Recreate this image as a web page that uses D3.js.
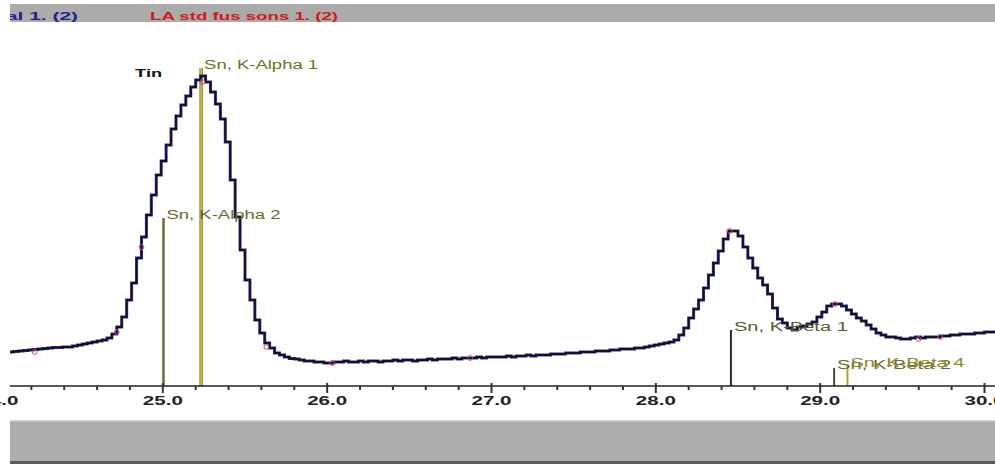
<!DOCTYPE html>
<html>
<head>
<meta charset="utf-8">
<script src="https://cdn.jsdelivr.net/npm/d3@7/dist/d3.min.js"></script>
<style>
  html, body { margin: 0; padding: 0; background: #fff; }
  svg { display: block; }
  text { font-family: "Liberation Sans", Arial, sans-serif; }
</style>
</head>
<body>
<svg id="chart" width="995" height="464"></svg>
<script>
// Spectrum channels (keV) : first channel edge and channel width
const channelStart = 24.06;
const channelWidth = 0.03;

// Counts per channel, spectrum "al 1. (2)"
const spectrumCounts = [
  330, 335, 340, 345, 350, 355, 360, 365, 370, 375,
  375, 380, 380, 390, 400, 410, 420, 430, 440, 450,
  470, 510, 580, 680, 850, 1020, 1270, 1480, 1700, 1900,
  2100, 2240, 2400, 2560, 2690, 2800, 2890, 2980, 3050, 3090,
  3030, 2930, 2810, 2660, 2430, 2050, 1680, 1350, 1050, 850,
  650, 520, 420, 370, 320, 300, 280, 265, 260, 250,
  240, 240, 230, 230, 220, 220, 230, 230, 240, 230,
  230, 240, 230, 240, 240, 230, 240, 240, 250, 240,
  250, 250, 240, 250, 250, 260, 250, 260, 260, 260,
  270, 260, 270, 270, 270, 280, 270, 280, 280, 280,
  280, 290, 280, 290, 290, 300, 290, 300, 300, 300,
  310, 310, 310, 320, 320, 320, 330, 330, 330, 340,
  340, 340, 350, 350, 360, 360, 360, 370, 370, 380,
  390, 400, 410, 420, 430, 450, 500, 570, 670, 760,
  850, 970, 1100, 1220, 1340, 1460, 1540, 1540, 1490, 1380,
  1270, 1170, 1070, 1000, 910, 770, 660, 620, 570, 550,
  580, 590, 610, 630, 680, 730, 790, 810, 810, 790,
  750, 710, 670, 640, 600, 560, 520, 500, 480, 480,
  470, 460, 460, 470, 480, 470, 480, 480, 480, 490,
  490, 500, 500, 510, 510, 510, 520, 520, 530, 530,
  530
];

// Second spectrum "LA std fus sons 1. (2)" : sampled points [keV, counts]
const refEnergies = [24.22, 24.72, 24.87, 25.24, 25.63, 26.03, 26.87, 28.45, 29.09, 29.60, 29.73];
const refCounts   = [330, 530, 1380, 3030, 380, 220, 270, 1540, 810, 460, 480];

// Line markers
const lineNames    = ["Sn, K-Alpha 1", "Sn, K-Alpha 2", "Sn, K-Beta 1", "Sn, K-Beta 2", "Sn, K-Beta 4"];
const lineEnergies = [25.233, 25.004, 28.457, 29.085, 29.166];
const lineHeights  = [3170, 1670, 550, 170, 190];
const lineColors   = ["#b7b126", "#6d6b30", "#2a2a2a", "#3a3a2a", "#aaa63a"];
const lineWidths   = [3, 2.5, 2, 1.8, 2];
const elementName  = "Tin";

// Axis ticks
const majorTicks = [24, 25, 26, 27, 28, 29, 30];
const tickLabels = ["24.0", "25.0", "26.0", "27.0", "28.0", "29.0", "30.0"];
const minorTicks = [24.2, 24.4, 24.6, 24.8, 25.2, 25.4, 25.6, 25.8, 26.2, 26.4, 26.6, 26.8,
                    27.2, 27.4, 27.6, 27.8, 28.2, 28.4, 28.6, 28.8, 29.2, 29.4, 29.6, 29.8];

// Header captions
const seriesTitles = ["al 1. (2)", "LA std fus sons 1. (2)"];
const seriesColors = ["#22238a", "#cf1b1b"];

const W = 995, H = 464;
const svg = d3.select("#chart");

const x = d3.scaleLinear().domain([24.07, 30.07]).range([10, 996]);
const y = d3.scaleLinear().domain([0, 3200]).range([385, 65]);
const axisY = 386;

// Header and footer panels
svg.append("rect").attr("x", 10).attr("y", 4).attr("width", W - 10).attr("height", 18).attr("fill", "#ababab");
svg.append("rect").attr("x", 10).attr("y", 421).attr("width", W - 10).attr("height", 40).attr("fill", "#adadad");
svg.append("rect").attr("x", 10).attr("y", 420).attr("width", W - 10).attr("height", 1.5).attr("fill", "#d4d4d4");
svg.append("rect").attr("x", 10).attr("y", 461).attr("width", W - 10).attr("height", 3).attr("fill", "#5a5a5a");

// Header captions
svg.append("clipPath").attr("id", "capclip")
  .append("rect").attr("x", 10).attr("y", 0).attr("width", W - 10).attr("height", 24);
const caps = svg.append("g").attr("clip-path", "url(#capclip)");
caps.append("text").attr("x", 6).attr("y", 20)
  .attr("font-size", 11).attr("font-weight", "bold").attr("fill", seriesColors[0])
  .attr("textLength", 72).attr("lengthAdjust", "spacingAndGlyphs").text(seriesTitles[0]);
caps.append("text").attr("x", 150).attr("y", 20)
  .attr("font-size", 11).attr("font-weight", "bold").attr("fill", seriesColors[1])
  .attr("textLength", 188).attr("lengthAdjust", "spacingAndGlyphs").text(seriesTitles[1]);

// Plot clip
svg.append("clipPath").attr("id", "plotclip")
  .append("rect").attr("x", 10).attr("y", 24).attr("width", W - 10).attr("height", axisY - 24);
const plot = svg.append("g").attr("clip-path", "url(#plotclip)");

// Line markers
lineNames.forEach((name, i) => {
  const lx = x(lineEnergies[i]);
  if (i === 0) {
    plot.append("line").attr("x1", lx).attr("x2", lx).attr("y1", y(lineHeights[i])).attr("y2", axisY)
      .attr("stroke", "#7a7526").attr("stroke-width", 3.4);
    plot.append("line").attr("x1", lx).attr("x2", lx).attr("y1", y(lineHeights[i])).attr("y2", axisY)
      .attr("stroke", "#cfc63c").attr("stroke-width", 1.6);
  } else {
    plot.append("line").attr("x1", lx).attr("x2", lx).attr("y1", y(lineHeights[i])).attr("y2", axisY)
      .attr("stroke", lineColors[i]).attr("stroke-width", lineWidths[i]);
  }
});

// Spectrum as a step trace
const stepPts = spectrumCounts.map((c, i) => [channelStart + i * channelWidth, c]);
stepPts.push([channelStart + spectrumCounts.length * channelWidth, spectrumCounts[spectrumCounts.length - 1]]);
const step = d3.line().x(d => x(d[0])).y(d => y(d[1])).curve(d3.curveStepAfter);
plot.append("path").attr("d", step(stepPts)).attr("fill", "none")
  .attr("stroke", "#2b2fb5").attr("stroke-width", 3);
plot.append("path").attr("d", step(stepPts)).attr("fill", "none")
  .attr("stroke", "#141414").attr("stroke-width", 1.8);

// Second spectrum markers
plot.selectAll("circle.ref").data(refEnergies).join("circle").attr("class", "ref")
  .attr("cx", d => x(d)).attr("cy", (d, i) => y(refCounts[i])).attr("r", 2.4)
  .attr("fill", "none").attr("stroke", "#c8506a").attr("stroke-width", 1);

// Line labels
const labelColors = ["#707024", "#6a6a2c", "#5a5a2a", "#6d6d22", "#8a8a2a"];
lineNames.forEach((name, i) => {
  plot.append("text").attr("x", x(lineEnergies[i]) + 3).attr("y", y(lineHeights[i]) + 1)
    .attr("font-size", 12).attr("fill", labelColors[i])
    .attr("textLength", 114).attr("lengthAdjust", "spacingAndGlyphs").text(name);
});
plot.append("text").attr("x", x(lineEnergies[0]) - 39).attr("y", y(lineHeights[0]) + 9)
  .attr("text-anchor", "end").attr("font-size", 10).attr("font-weight", "bold").attr("fill", "#111")
  .attr("textLength", 27).attr("lengthAdjust", "spacingAndGlyphs").text(elementName);

// X axis
const axis = svg.append("g");
axis.append("line").attr("x1", 10).attr("x2", W).attr("y1", axisY).attr("y2", axisY)
  .attr("stroke", "#222").attr("stroke-width", 1.6);
axis.selectAll("line.minor").data(minorTicks).join("line").attr("class", "minor")
  .attr("x1", d => x(d)).attr("x2", d => x(d)).attr("y1", axisY).attr("y2", axisY + 4)
  .attr("stroke", "#333").attr("stroke-width", 2);
axis.selectAll("line.major").data(majorTicks).join("line").attr("class", "major")
  .attr("x1", d => x(d)).attr("x2", d => x(d)).attr("y1", axisY - 3).attr("y2", axisY + 7)
  .attr("stroke", "#333").attr("stroke-width", 2);
axis.selectAll("text.tick").data(majorTicks).join("text").attr("class", "tick")
  .attr("x", d => x(d) - 20).attr("y", 405)
  .attr("font-size", 12).attr("font-weight", "bold").attr("fill", "#222")
  .attr("textLength", 40).attr("lengthAdjust", "spacingAndGlyphs")
  .text((d, i) => tickLabels[i]);
</script>
</body>
</html>
